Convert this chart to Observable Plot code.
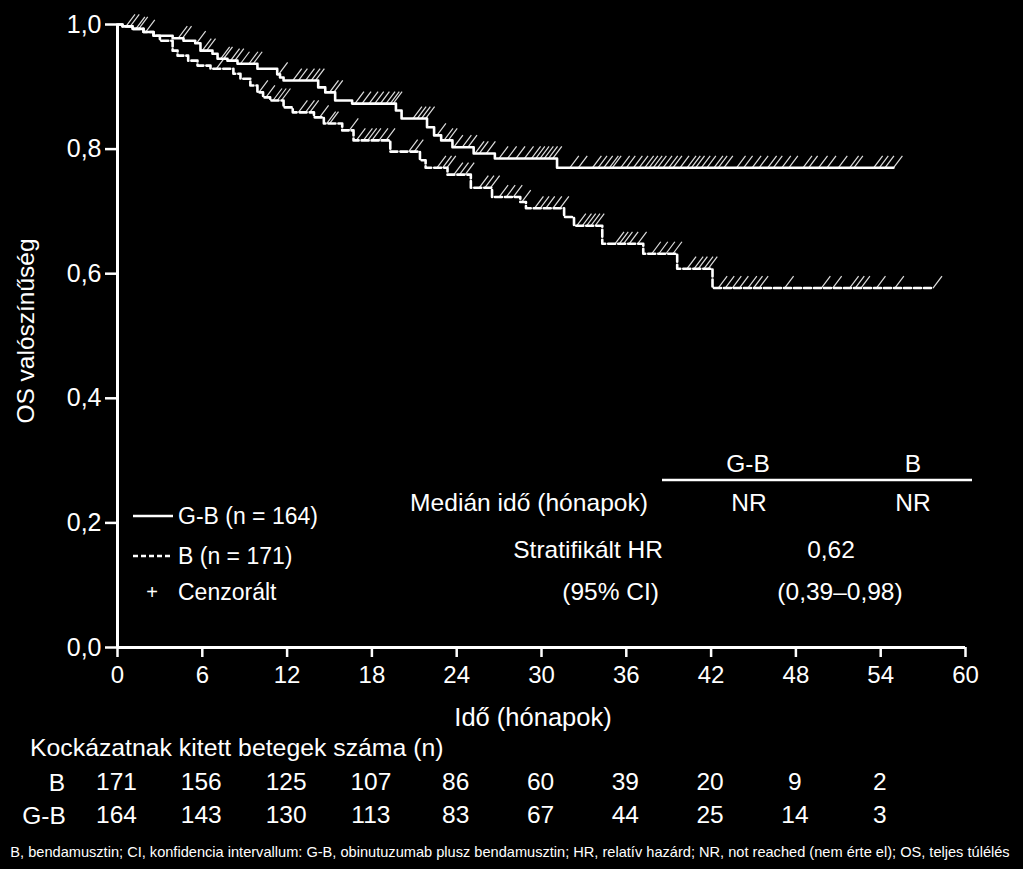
<!DOCTYPE html>
<html><head><meta charset="utf-8">
<script src="https://cdn.jsdelivr.net/npm/d3@7"></script>
<script src="https://cdn.jsdelivr.net/npm/@observablehq/plot@0.6"></script>
<style>html,body{margin:0;padding:0;background:#000;} svg{display:block}</style>
</head><body><div id="chart"></div>
<script>
// ---- Data ----
const gbTimes = [0, 0.35, 1.06, 1.84, 2.55, 3.9, 4.67, 5.5, 5.87, 6.72, 7.08, 7.78, 8.49, 9.9, 11.3, 11.5, 11.75, 14.2, 14.7, 15.4, 16.6, 19.7, 20.1, 21.9, 22.4, 22.9, 23.7, 25.2, 26.7, 31.1, 54.9];
const gbSurv  = [1.0, 0.997, 0.993, 0.988, 0.982, 0.978, 0.974, 0.970, 0.958, 0.953, 0.945, 0.942, 0.937, 0.929, 0.920, 0.915, 0.910, 0.899, 0.891, 0.878, 0.873, 0.862, 0.849, 0.835, 0.822, 0.814, 0.803, 0.793, 0.785, 0.770, 0.770];
const bTimes = [0, 0.35, 1.06, 1.84, 2.55, 3.0, 3.9, 4.25, 5.0, 5.66, 6.58, 8.2, 8.7, 9.4, 9.9, 10.3, 10.8, 11.75, 12.4, 13.9, 14.6, 15.9, 16.7, 19.3, 21.4, 21.8, 23.35, 25.0, 26.5, 28.5, 28.9, 31.6, 32.3, 34.3, 37.2, 39.6, 42.1, 57.7];
const bSurv  = [1.0, 0.997, 0.993, 0.988, 0.982, 0.974, 0.958, 0.950, 0.942, 0.934, 0.929, 0.921, 0.913, 0.902, 0.891, 0.883, 0.878, 0.867, 0.859, 0.851, 0.841, 0.830, 0.814, 0.796, 0.782, 0.770, 0.759, 0.738, 0.723, 0.715, 0.705, 0.691, 0.677, 0.648, 0.632, 0.608, 0.577, 0.577];
const gbCensor = [0.6, 0.9, 1.3, 2.0, 4.3, 4.6, 5.6, 6.0, 6.3, 7.3, 7.5, 8.0, 8.3, 8.7, 9.3, 9.6, 11.4, 12.4, 12.8, 13.3, 13.7, 14.0, 15.0, 15.3, 16.8, 17.3, 17.8, 18.2, 18.6, 19.0, 19.3, 19.5, 20.9, 21.2, 21.5, 21.8, 22.6, 23.1, 23.4, 23.8, 24.4, 24.8, 25.3, 25.6, 26.1, 27.0, 27.6, 28.2, 28.8, 29.3, 29.6, 29.9, 30.2, 30.5, 30.8, 32.0, 32.6, 33.6, 34.0, 34.4, 34.8, 35.0, 35.6, 36.0, 36.5, 36.9, 37.3, 37.6, 37.9, 38.2, 38.6, 39.0, 39.3, 39.8, 40.3, 40.6, 40.9, 41.3, 41.7, 42.2, 42.5, 42.9, 43.8, 44.3, 44.9, 45.4, 46.0, 46.4, 47.0, 47.5, 48.5, 48.9, 49.6, 50.2, 51.0, 51.8, 52.1, 53.5, 53.9, 54.3, 54.9];
const bCensor = [1.5, 7.0, 10.0, 10.5, 11.0, 11.3, 11.6, 12.8, 13.3, 13.6, 14.3, 14.8, 15.0, 16.4, 16.9, 17.4, 17.7, 18.0, 18.5, 19.0, 20.6, 21.0, 22.6, 23.0, 23.3, 23.8, 24.2, 24.6, 25.6, 26.0, 26.4, 27.0, 27.5, 28.0, 28.6, 29.5, 29.9, 30.3, 30.8, 31.3, 32.5, 32.9, 33.2, 33.5, 33.8, 35.2, 35.5, 35.8, 36.2, 36.8, 37.8, 38.3, 38.8, 39.3, 40.3, 40.8, 41.1, 41.5, 41.8, 42.5, 43.0, 43.5, 44.0, 44.6, 45.0, 45.4, 47.2, 49.8, 50.6, 51.8, 52.2, 52.6, 53.7, 55.0, 57.7];
const xTicks = [0, 6, 12, 18, 24, 30, 36, 42, 48, 54, 60];
const yTicks = [0, 0.2, 0.4, 0.6, 0.8, 1.0];
const riskTimes = [0, 6, 12, 18, 24, 30, 36, 42, 48, 54];
const riskB  = [171, 156, 125, 107, 86, 60, 39, 20, 9, 2];
const riskGB = [164, 143, 130, 113, 83, 67, 44, 25, 14, 3];

// ---- Build ----
const W = 1023, H = 869;
const font = "'Liberation Sans', Arial, Helvetica, sans-serif";
function stepAt(times, surv, t) { let v = surv[0]; for (let i = 0; i < times.length; i++) { if (times[i] <= t) v = surv[i]; else break; } return v; }
const gbData = gbTimes.map((t, i) => ({t, s: gbSurv[i]}));
const bData = bTimes.map((t, i) => ({t, s: bSurv[i]}));
const gbCens = gbCensor.map(t => ({t, s: stepAt(gbTimes, gbSurv, t)}));
const bCens = bCensor.map(t => ({t, s: stepAt(bTimes, bSurv, t)}));
const censorSymbol = {draw(ctx) { ctx.moveTo(0, 0); ctx.lineTo(9, -12); }};
const comma = d => d.toFixed(1).replace(".", ",");

const svg = Plot.plot({
  width: W, height: H,
  marginLeft: 117, marginRight: 58, marginTop: 24, marginBottom: 222,
  style: {background: "#000", color: "#fff", fontFamily: font, overflow: "visible"},
  x: {domain: [0, 60]},
  y: {domain: [0, 1]},
  marks: [
    Plot.axisX({ticks: xTicks, tickSize: 10, tickPadding: 8, tickFormat: d => String(d), fontSize: 24, strokeWidth: 2.5, label: null}),
    Plot.axisY({ticks: yTicks, tickSize: 12, tickPadding: 4, tickFormat: comma, fontSize: 25, strokeWidth: 2.5, label: null}),
    Plot.ruleY([0], {stroke: "#fff", strokeWidth: 3}),
    Plot.ruleX([0], {stroke: "#fff", strokeWidth: 3}),
    Plot.dot(gbCens, {x: "t", y: "s", symbol: censorSymbol, r: 4, stroke: "#ddd", fill: "none", strokeWidth: 1.2}),
    Plot.dot(bCens, {x: "t", y: "s", symbol: censorSymbol, r: 4, stroke: "#ddd", fill: "none", strokeWidth: 1.2}),
    Plot.line(gbData, {x: "t", y: "s", curve: "step-after", stroke: "#fff", strokeWidth: 2.6}),
    Plot.line(bData, {x: "t", y: "s", curve: "step-after", stroke: "#fff", strokeWidth: 2.6, strokeDasharray: "7,3"}),
    Plot.text(riskTimes.map((t, i) => ({t, n: riskB[i]})), {x: "t", text: "n", frameAnchor: "bottom", dy: 135, fontSize: 24.5, fill: "#fff", lineAnchor: "middle", dx: -1}),
    Plot.text(riskTimes.map((t, i) => ({t, n: riskGB[i]})), {x: "t", text: "n", frameAnchor: "bottom", dy: 168, fontSize: 24.5, fill: "#fff", lineAnchor: "middle", dx: -1})
  ]
});

const s = d3.select(svg);
function txt(x, y, str, size, anchor, extra) {
  const t = s.append("text").attr("x", x).attr("y", y).attr("dy", "0.35em")
    .attr("fill", "#fff").attr("font-size", size).attr("font-family", font)
    .attr("text-anchor", anchor || "start").text(str);
  if (extra) extra(t);
  return t;
}
// axis titles
txt(533, 717, "Idő (hónapok)", 25.5, "middle");
txt(0, 0, "OS valószínűség", 24.5, "middle", t => t.attr("transform", "translate(25,331) rotate(-90)"));
// risk table labels
txt(30, 747, "Kockázatnak kitett betegek száma (n)", 24.8, "start");
txt(57, 782, "B", 24.5, "middle");
txt(44, 815, "G-B", 24.5, "middle");
// footnote
txt(510, 852, "B, bendamusztin; CI, konfidencia intervallum: G-B, obinutuzumab plusz bendamusztin; HR, relatív hazárd; NR, not reached (nem érte el); OS, teljes túlélés", 14.6, "middle");
// legend
s.append("line").attr("x1", 133).attr("x2", 173).attr("y1", 516).attr("y2", 516).attr("stroke", "#fff").attr("stroke-width", 2.6);
txt(178, 516, "G-B (n = 164)", 23);
s.append("line").attr("x1", 133).attr("x2", 173).attr("y1", 556).attr("y2", 556).attr("stroke", "#fff").attr("stroke-width", 2.6).attr("stroke-dasharray", "5,3");
txt(178, 556, "B (n = 171)", 23);
txt(152, 592, "+", 20, "middle");
txt(178, 592, "Cenzorált", 23);
// stats table
txt(748, 463, "G-B", 24.5, "middle");
txt(913, 463, "B", 24.5, "middle");
s.append("line").attr("x1", 662).attr("x2", 972).attr("y1", 480).attr("y2", 480).attr("stroke", "#fff").attr("stroke-width", 2.6);
txt(648, 502, "Medián idő (hónapok)", 24.6, "end");
txt(749, 502, "NR", 24.5, "middle");
txt(913, 502, "NR", 24.5, "middle");
txt(663, 549, "Stratifikált HR", 24.5, "end");
txt(831, 549, "0,62", 24.5, "middle");
txt(659, 591, "(95% CI)", 24.5, "end");
txt(840, 591, "(0,39–0,98)", 24.5, "middle");

document.getElementById("chart").appendChild(svg);
</script>
</body></html>
